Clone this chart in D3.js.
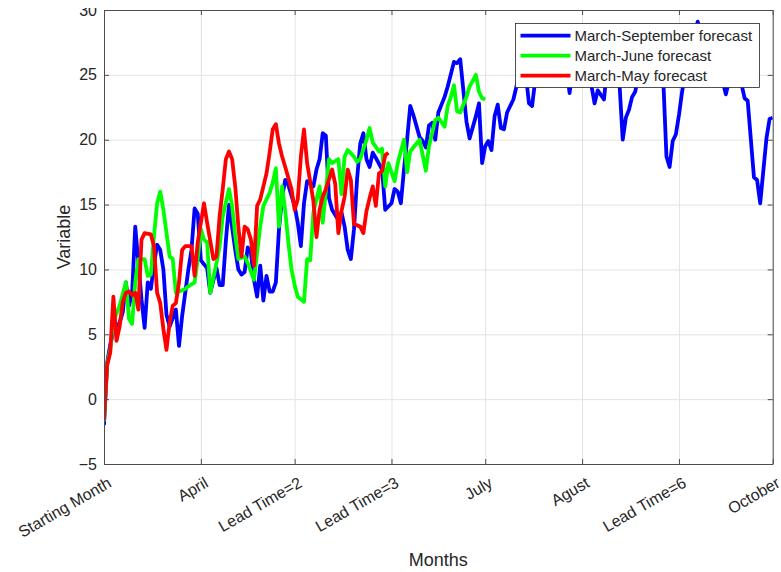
<!DOCTYPE html>
<html>
<head>
<meta charset="utf-8">
<script src="https://cdn.jsdelivr.net/npm/d3@7"></script>
<style>
  body { margin: 0; background: #fff; }
  svg text { font-family: "Liberation Sans", Arial, Helvetica, sans-serif; fill: #262626; }
</style>
</head>
<body>
<svg id="chart" width="781" height="572"></svg>
<script>
// x = days since start of March, ticks at month boundaries
const tickDays = [0, 31, 61, 92, 122, 153, 184, 214];
const tickLabels = ["Starting Month", "April", "Lead Time=2", "Lead Time=3", "July", "Agust", "Lead Time=6", "October"];
const yTicks = [-5, 0, 5, 10, 15, 20, 25, 30];

const legendLabels = ["March-September forecast", "March-June forecast", "March-May forecast"];

const marSepDays = [0,1,2,3,5,6,7,8,9,10,11,12,13,14,15,16,17,18,19,20,21,23,24,25,27,28,29,30,31,33,34,36,37,38,39,40,42,43,44,45,46,47,48,49,50,51,52,53,54,55,56,57,58,59,61,62,63,64,65,67,68,69,70,71,72,73,75,76,77,78,79,80,81,82,83,84,85,86,87,89,90,92,93,94,95,96,97,98,99,101,102,103,104,105,106,107,109,110,112,113,114,115,116,117,119,120,121,122,123,124,125,126,127,128,129,131,132,133,134,135,136,137,138,140,142,144,146,148,149,150,152,154,155,157,158,160,161,163,164,165,166,167,168,169,170,172,174,176,178,179,180,181,182,183,184,185,187,190,192,194,196,198,199,200,202,204,205,206,208,209,210,212,213,214];
const marSepValues = [-2.0,2.8,4.2,5.2,5.9,6.7,9.0,7.2,8.2,13.3,10.5,7.7,5.5,9.0,8.5,10.4,11.9,11.5,10.0,6.5,5.6,6.9,4.1,6.4,10.0,11.5,14.7,14.3,10.7,10.1,8.2,10.1,8.8,8.8,12.2,15.0,11.5,10.0,9.6,9.8,11.7,11.3,9.2,7.9,10.3,7.6,9.5,8.3,8.3,9.0,13.1,15.6,16.9,16.5,14.9,13.6,11.8,15.1,16.8,16.4,17.7,18.5,20.5,20.3,15.5,14.6,13.8,14.4,13.3,11.5,10.8,13.1,17.0,19.7,20.5,18.5,17.9,19.0,18.6,17.7,14.6,15.1,16.2,16.0,15.1,17.7,20.0,22.6,21.9,20.2,19.9,19.4,21.1,21.3,20.0,22.1,23.3,24.1,26.0,25.9,26.2,23.8,21.4,20.1,21.8,22.8,18.2,19.5,19.9,19.2,21.8,22.7,20.9,20.8,22.1,23.1,24.1,25.5,26.0,25.0,22.8,22.6,24.6,27.0,28.0,27.0,26.0,25.5,23.6,25.5,28.0,26.5,25.5,22.8,23.8,23.1,25.5,27.0,26.0,24.2,20.0,21.7,22.3,23.3,23.7,26.0,27.5,27.0,26.0,24.5,18.7,17.9,19.9,20.4,21.9,23.7,26.5,29.1,27.5,26.0,26.5,24.5,23.5,24.5,26.5,24.3,23.2,23.0,17.1,16.9,15.1,20.1,21.6,21.7];

const marJunDays = [0,1,2,3,5,7,8,9,10,11,13,14,15,16,17,18,19,20,21,22,23,24,26,27,29,30,31,32,33,34,36,37,38,40,41,42,43,45,46,48,49,50,51,53,54,55,56,57,58,59,60,61,62,63,64,65,66,67,69,70,72,73,75,76,77,78,80,81,82,84,85,86,88,89,90,91,93,94,96,97,98,99,101,102,103,104,106,107,109,110,111,112,113,114,116,117,119,120,121,122];
const marJunValues = [-1.7,2.7,3.8,6.0,7.2,9.0,6.2,5.8,9.0,10.8,10.8,9.5,9.6,12.6,15.1,16.0,14.6,12.8,11.0,10.8,8.2,8.3,8.5,8.7,9.0,10.8,13.1,12.3,12.1,8.2,10.5,11.8,14.1,16.2,14.9,12.6,10.8,11.0,10.5,9.2,11.3,13.3,14.9,15.9,16.7,17.8,13.3,16.4,14.5,12.1,10.0,8.8,7.9,7.7,7.5,10.8,10.7,14.4,16.4,13.6,18.5,18.2,18.5,15.8,18.7,19.2,18.7,18.3,18.5,20.0,20.9,19.8,19.1,19.3,16.4,18.2,16.8,18.2,20.0,17.5,19.1,19.4,20.0,18.8,17.6,19.5,21.5,21.7,21.0,22.6,23.3,24.2,22.2,22.1,23.3,24.1,25.0,23.7,23.2,23.1];

const marMayDays = [0,1,2,3,4,5,6,7,8,9,10,11,12,13,15,16,17,18,19,20,21,22,23,24,25,26,28,29,30,32,33,35,36,37,38,39,40,41,42,43,44,45,46,47,48,49,50,52,53,54,55,56,57,58,60,61,62,63,64,65,67,68,69,70,71,73,74,75,76,77,78,79,80,82,83,84,85,86,87,88,89,90,91];
const marMayValues = [-1.6,2.6,3.6,7.9,4.5,5.6,7.5,8.2,8.3,8.0,8.2,6.9,12.3,12.8,12.7,11.8,8.2,7.4,5.4,3.8,5.9,7.2,7.4,9.0,11.5,11.8,11.8,9.5,12.1,15.1,13.6,10.8,11.0,14.1,16.2,18.5,19.1,18.5,16.4,13.3,11.0,13.3,13.1,12.3,10.3,14.9,15.4,17.4,19.0,20.8,21.2,19.7,18.7,17.9,16.2,14.6,15.4,18.7,20.8,18.2,15.3,12.5,14.6,15.6,16.2,17.7,16.6,12.8,14.5,15.6,17.7,16.9,13.5,13.3,12.8,14.5,15.5,16.4,14.9,17.4,17.6,18.8,19.0];

const svg = d3.select("#chart");
const plotLeft = 104, plotRight = 772.7, plotTop = 10, plotBottom = 464;

const x = d3.scaleLinear().domain([0, 214]).range([plotLeft, plotRight]);
const y = d3.scaleLinear().domain([-5, 30]).range([plotBottom, plotTop]);

// grid
svg.append("g")
    .attr("transform", `translate(0,${plotBottom})`)
    .call(d3.axisBottom(x).tickValues(tickDays).tickSize(-(plotBottom - plotTop)).tickFormat(""))
    .call(g => g.select(".domain").remove())
    .call(g => g.selectAll("line").attr("stroke", "#e3e3e3"));
svg.append("g")
    .attr("transform", `translate(${plotLeft},0)`)
    .call(d3.axisLeft(y).tickValues(yTicks).tickSize(-(plotRight - plotLeft)).tickFormat(""))
    .call(g => g.select(".domain").remove())
    .call(g => g.selectAll("line").attr("stroke", "#e3e3e3"));

// lines
svg.append("clipPath").attr("id", "plotclip")
    .append("rect").attr("x", plotLeft).attr("y", plotTop)
    .attr("width", plotRight - plotLeft).attr("height", plotBottom - plotTop);

const series = [
    {days: marSepDays, values: marSepValues, color: "#0000ff"},
    {days: marJunDays, values: marJunValues, color: "#00ff00"},
    {days: marMayDays, values: marMayValues, color: "#ff0000"}
];

const line = d3.line().x(d => x(d[0])).y(d => y(d[1]));

svg.append("g").attr("clip-path", "url(#plotclip)")
    .selectAll("path")
    .data(series)
    .join("path")
    .attr("d", s => line(d3.zip(s.days, s.values)))
    .attr("fill", "none")
    .attr("stroke", s => s.color)
    .attr("stroke-width", 3.8)
    .attr("stroke-linejoin", "round");

// axes, ticks pointing inward on all four sides
const axisColor = "#4d4d4d";
function styleAxis(g) {
    g.select(".domain").attr("stroke", axisColor);
    g.selectAll(".tick line").attr("stroke", axisColor);
    g.selectAll("text").attr("font-size", 16).attr("fill", "#262626")
        .style("font-family", '"Liberation Sans", Arial, sans-serif');
}

svg.append("g")
    .attr("transform", `translate(0,${plotBottom})`)
    .call(d3.axisBottom(x).tickValues(tickDays).tickSizeInner(-5).tickSizeOuter(0).tickFormat((d, i) => tickLabels[i]))
    .call(styleAxis)
    .call(g => g.selectAll("text")
        .attr("y", 0).attr("dy", 0)
        .attr("text-anchor", "end")
        .attr("transform", "translate(8,22) rotate(-30)"));

svg.append("clipPath").attr("id", "ylabclip")
    .append("rect").attr("x", -plotLeft).attr("y", 8).attr("width", plotLeft + 10).attr("height", 572);

svg.append("g")
    .attr("transform", `translate(${plotLeft},0)`)
    .attr("clip-path", "url(#ylabclip)")
    .call(d3.axisLeft(y).tickValues(yTicks).tickSizeInner(-5).tickSizeOuter(0).tickPadding(7))
    .call(styleAxis);

svg.append("g")
    .attr("transform", `translate(0,${plotTop})`)
    .call(d3.axisTop(x).tickValues(tickDays).tickSizeInner(-5).tickSizeOuter(0).tickFormat(""))
    .call(styleAxis);

svg.append("g")
    .attr("transform", `translate(${plotRight},0)`)
    .call(d3.axisRight(y).tickValues(yTicks).tickSizeInner(-5).tickSizeOuter(0).tickFormat(""))
    .call(styleAxis);

// axis labels
svg.append("text")
    .attr("x", (plotLeft + plotRight) / 2).attr("y", 566)
    .attr("text-anchor", "middle")
    .attr("font-size", 18)
    .text("Months");

svg.append("text")
    .attr("transform", `translate(70,${(plotTop + plotBottom) / 2}) rotate(-90)`)
    .attr("text-anchor", "middle")
    .attr("font-size", 18)
    .text("Variable");

// legend
const legend = svg.append("g").attr("transform", "translate(515.5,23.5)");
legend.append("rect")
    .attr("width", 244).attr("height", 64)
    .attr("fill", "#fff").attr("stroke", "#262626").attr("stroke-width", 0.8);

const legendRows = legend.selectAll("g")
    .data(series)
    .join("g")
    .attr("transform", (s, i) => `translate(0,${12.2 + i * 20})`);
legendRows.append("line")
    .attr("x1", 5).attr("x2", 55)
    .attr("stroke", s => s.color).attr("stroke-width", 3.8);
legendRows.append("text")
    .attr("x", 59).attr("dy", "0.35em")
    .attr("font-size", 15)
    .text((s, i) => legendLabels[i]);
</script>
</body>
</html>
